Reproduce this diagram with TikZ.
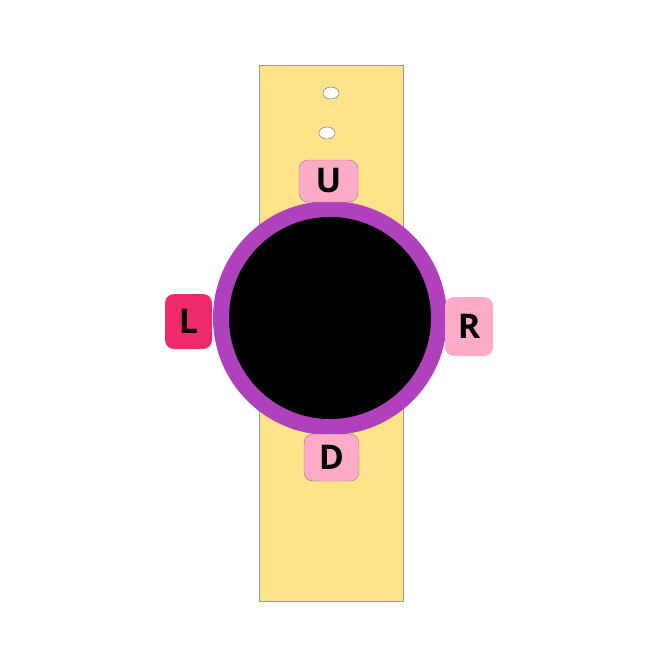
\documentclass[tikz,border=0pt]{standalone}
\usepackage{fontspec}
\setmainfont{Open Sans}
\definecolor{band}{RGB}{255,227,138}
\definecolor{bezel}{RGB}{176,64,188}
\definecolor{keypink}{RGB}{255,170,200}
\definecolor{keyred}{RGB}{238,42,106}
\begin{document}
\begin{tikzpicture}[x=1pt, y=-1pt, every node/.style={font=\fontsize{34}{36}\selectfont\bfseries},
  key/.style={fill=keypink, rounded corners=9pt, inner sep=0pt}]
  \useasboundingbox (0,0) rectangle (648,648);

  % strap
  \draw[gray!80, fill=band] (259,65) rectangle (403,601);
  \draw[gray!80!black, fill=white] (331,93) ellipse (8 and 6);
  \draw[gray!80!black, fill=white] (327,133) ellipse (8 and 6);

  % face
  \fill[bezel] (330,318) circle (117);
  \fill[black] (330,318) circle (101);

  % keys
  \node[key, draw=gray, minimum width=59pt, minimum height=42pt] (up) at (328.5,181) {U};
  \node[key, draw=gray, minimum width=55pt, minimum height=47pt] (down) at (331.5,457.5) {D};
  \node[key, fill=keyred, minimum width=47pt, minimum height=55pt] (left) at (188.5,321.5) {L};
  \node[key, minimum width=48pt, minimum height=59pt] (right) at (469,326.5) {R};
\end{tikzpicture}
\end{document}
